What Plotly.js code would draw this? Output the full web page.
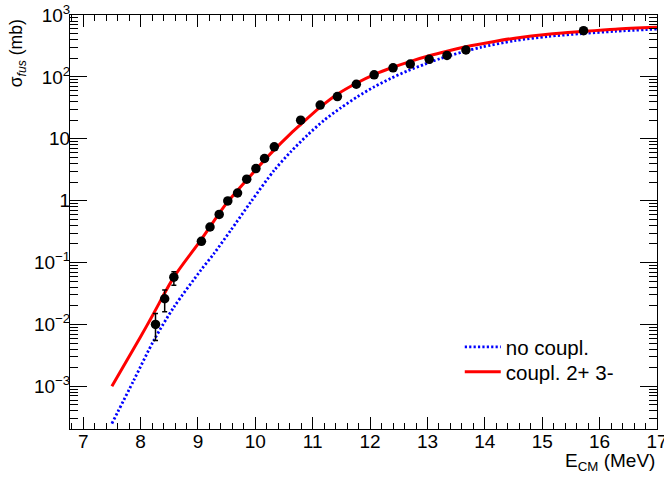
<!DOCTYPE html>
<html>
<head>
<meta charset="utf-8">
<script src="https://cdn.plot.ly/plotly-3.0.1.min.js"></script>
<style>html,body{margin:0;padding:0;background:#fff;}#chart{width:664px;height:477px;}</style>
</head>
<body>
<div id="chart"></div>
<script>
// Experimental fusion cross sections
var expE     = [8.26, 8.42, 8.58, 9.06, 9.21, 9.37, 9.52, 9.69, 9.85, 10.01, 10.16, 10.33, 10.79, 11.13, 11.43, 11.76, 12.07, 12.40, 12.70, 13.03, 13.34, 13.67, 15.72];
var expSigma = [0.010, 0.026, 0.058, 0.22, 0.375, 0.60, 0.99, 1.33, 2.22, 3.3, 4.8, 7.4, 20, 35, 48, 76, 108, 140, 161, 192, 222, 272, 557];
var expErrUp = [0.005, 0.010, 0.013, 0, 0, 0, 0, 0, 0, 0, 0, 0, 0, 0, 0, 0, 0, 0, 0, 0, 0, 0, 0];
var expErrDn = [0.0045, 0.010, 0.015, 0, 0, 0, 0, 0, 0, 0, 0, 0, 0, 0, 0, 0, 0, 0, 0, 0, 0, 0, 0];

// Calculation without coupling
var noCoupE     = [7.5, 7.88, 8.23, 8.58, 9.05, 9.28, 9.57, 9.92, 10.33, 10.62, 10.91, 11.20, 11.49, 11.78, 12.07, 12.37, 12.66, 12.95, 13.24, 13.6, 13.94, 14.52, 15.1, 15.69, 16.27, 17.0];
var noCoupSigma = [0.00025, 0.00124, 0.0055, 0.019, 0.075, 0.14, 0.33, 0.95, 3.1, 6.2, 11.5, 20, 31.6, 47.9, 69, 95.5, 126, 160, 200, 251, 302, 385, 450, 500, 545, 592];

// Calculation with coupling 2+ 3-
var coupE     = [7.5, 8.0, 8.23, 8.58, 9.05, 9.5, 10.0, 10.27, 10.62, 10.79, 11.14, 11.43, 11.76, 12.08, 12.40, 12.72, 13.03, 13.34, 13.67, 14.12, 14.52, 15.1, 15.72, 16.27, 17.0];
var coupSigma = [0.001, 0.0063, 0.0152, 0.058, 0.23, 0.91, 3.1, 5.8, 12.2, 17, 33, 52.5, 79, 110, 143, 180, 219, 260, 307, 367, 422, 490, 543, 589, 631];

var xTicks = [7, 8, 9, 10, 11, 12, 13, 14, 15, 16, 17];
var yTickVals = [1e-3, 1e-2, 1e-1, 1, 10, 100, 1000];
var yTickText = ['10<sup>\u22123</sup>', '10<sup>\u22122</sup>', '10<sup>\u22121</sup>', '1', '10', '10<sup>2</sup>', '10<sup>3</sup>'];

var yMinor = [];
for (var k = -4; k <= 2; k++) {
  for (var m = 2; m <= 9; m++) { yMinor.push(m * Math.pow(10, k)); }
}

var FONT = 'Liberation Sans, Arial, Helvetica, sans-serif';

var traces = [
  {
    x: noCoupE, y: noCoupSigma, type: 'scatter', mode: 'lines', name: 'no coupl.',
    line: {color: '#0000ff', width: 2.8, dash: '2.2px,2.2px', shape: 'spline', smoothing: 0.8},
    legend: 'legend'
  },
  {
    x: coupE, y: coupSigma, type: 'scatter', mode: 'lines', name: 'coupl. 2+ 3-',
    line: {color: '#ff0000', width: 3, shape: 'spline', smoothing: 0.8},
    legend: 'legend2'
  },
  {
    x: expE, y: expSigma, type: 'scatter', mode: 'markers', name: 'data', showlegend: false,
    marker: {color: '#000000', size: 9.5, symbol: 'circle'},
    error_y: {type: 'data', symmetric: false, array: expErrUp, arrayminus: expErrDn, color: '#000000', thickness: 1.5, width: 2.5}
  }
];

var legendStyle = function (yc) {
  return {
    x: 0.664, y: yc, xanchor: 'left', yanchor: 'middle',
    bgcolor: 'rgba(0,0,0,0)', borderwidth: 0,
    font: {family: FONT, size: 20.5, color: '#000'},
    itemwidth: 36
  };
};

var layout = {
  width: 664, height: 477,
  margin: {l: 70, r: 7, t: 15, b: 48, pad: 0},
  paper_bgcolor: '#ffffff', plot_bgcolor: '#ffffff',
  font: {family: FONT, size: 19, color: '#000000'},
  showlegend: true,
  legend: legendStyle(0.198),
  legend2: legendStyle(0.138),
  xaxis: {
    range: [6.77, 17], tickmode: 'array', tickvals: xTicks,
    ticks: 'inside', ticklen: 12, tickwidth: 1, tickcolor: '#000',
    minor: {tickmode: 'linear', tick0: 7, dtick: 0.2, ticks: 'inside', ticklen: 6, tickwidth: 1, tickcolor: '#000'},
    showline: true, linecolor: '#000', linewidth: 1, mirror: 'ticks',
    showgrid: false, zeroline: false, ticklabeloverflow: 'allow', ticklabelstandoff: -5,
    tickfont: {family: FONT, size: 19, color: '#000'}
  },
  yaxis: {
    type: 'log', range: [-3.69, 3], tickmode: 'array', tickvals: yTickVals, ticktext: yTickText,
    ticks: 'inside', ticklen: 17, tickwidth: 1, tickcolor: '#000',
    minor: {tickmode: 'array', tickvals: yMinor, ticks: 'inside', ticklen: 8, tickwidth: 1, tickcolor: '#000'},
    showline: true, linecolor: '#000', linewidth: 1, mirror: 'ticks',
    showgrid: false, zeroline: false, ticklabelstandoff: -5,
    tickfont: {family: FONT, size: 19, color: '#000'}
  },
  annotations: [
    {
      text: 'E<sub>CM</sub> (MeV)', xref: 'paper', yref: 'paper', x: 1, y: -0.0797,
      xanchor: 'right', yanchor: 'middle', showarrow: false,
      font: {family: FONT, size: 19, color: '#000'}
    },
    {
      text: '\u03c3<sub><i>fus</i></sub> (mb)', xref: 'paper', yref: 'paper', x: -0.09, y: 0.908,
      xanchor: 'center', yanchor: 'middle', textangle: -90, showarrow: false,
      font: {family: FONT, size: 17.5, color: '#000'}
    }
  ]
};

Plotly.newPlot('chart', traces, layout, {displayModeBar: false, staticPlot: true});
</script>
</body>
</html>
